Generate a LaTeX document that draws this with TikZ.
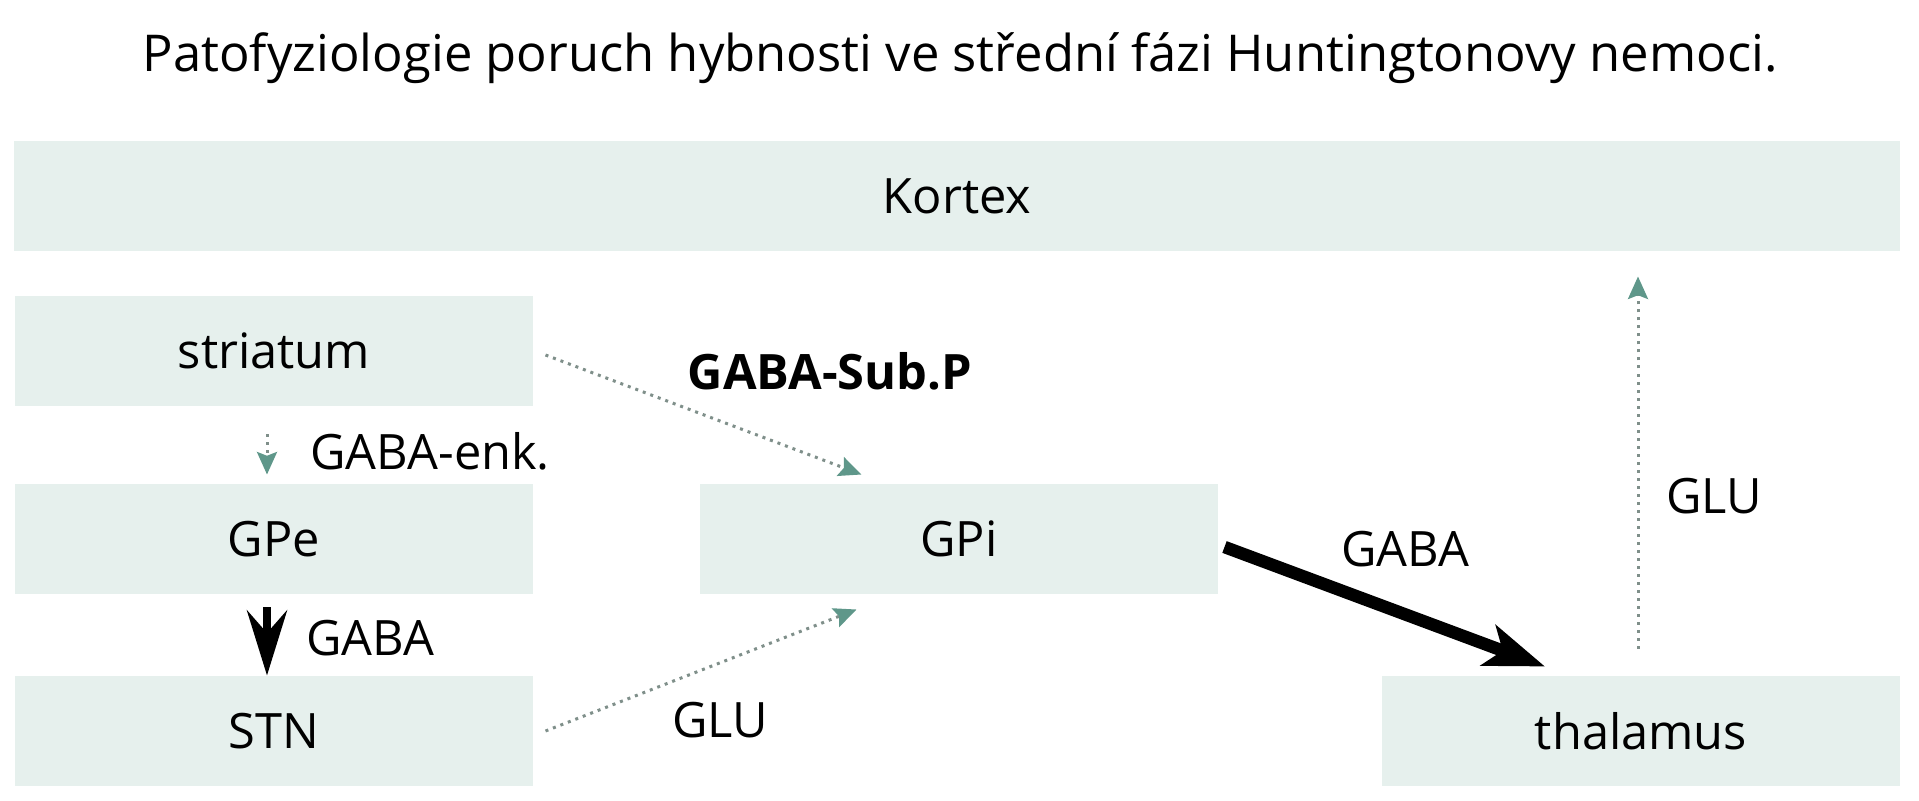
\documentclass[tikz,border=0pt]{standalone}
\usepackage{fontspec}
\setmainfont{Open Sans}
\usetikzlibrary{arrows.meta}
\definecolor{boxfill}{HTML}{E6F0ED}
\definecolor{tipgreen}{HTML}{5F978A}
\definecolor{dotgray}{HTML}{7F8F8A}

\begin{document}
\begin{tikzpicture}[x=0.4pt, y=-0.4pt,
    box/.style = {fill=boxfill, minimum width=207.2pt, minimum height=44pt,
        inner sep=0pt, font=\fontsize{19.5}{23}\selectfont},
    lbl/.style = {inner sep=0pt, font=\fontsize{19.5}{23}\selectfont},
    weak/.style = {dotgray, line width=1.2pt, dash pattern=on 1.2pt off 2pt,
        -{Stealth[length=9pt, width=8pt, inset=1.5pt, color=tipgreen]}},
    strong/.style = {line width=4pt, -{Stealth[length=22pt, width=15pt, inset=5pt]}}]
\useasboundingbox (0,0) rectangle (1919,800);
\node[lbl, font=\fontsize{20.3}{24}\selectfont] (title) at (960,58)
    {Patofyziologie poruch hybnosti ve střední fázi Huntingtonovy nemoci.};
% boxes
\node[box, minimum width=754pt] (kortex) at (957,196) {Kortex};
\node[box] (striatum) at (274,351) {striatum};
\node[box] (gpe) at (274,539) {GPe};
\node[box] (stn) at (274,731) {STN};
\node[box] (gpi) at (959,539) {GPi};
\node[box] (thalamus) at (1641,731) {thalamus};
% connections
\draw[weak, shorten <=11pt, shorten >=3.6pt]
    ([xshift=-2.8pt]striatum.south) -- ([xshift=-2.8pt]gpe.north);
\draw[strong, line width=3.4pt, -{Stealth[length=26pt, width=16pt, inset=9pt]}, shorten <=5pt]
    ([xshift=-2.8pt]gpe.south) -- ([xshift=-2.8pt]stn.north);
\draw[weak] ([xshift=4.8pt, yshift=-1.6pt]striatum.east)
    -- ([xshift=-39pt, yshift=3.6pt]gpi.north);
\draw[weak] ([xshift=4.8pt]stn.east)
    -- ([xshift=-41pt, yshift=-6pt]gpi.south);
\draw[strong, line width=5pt, -{Stealth[length=24pt, width=17pt, inset=6pt]}]
    ([xshift=2.4pt, yshift=-3.2pt]gpi.east)
    -- ([xshift=-38.4pt, yshift=3.6pt]thalamus.north);
\draw[weak, shorten <=10.8pt, shorten >=10pt]
    ([xshift=-1.2pt]thalamus.north) -- ([xshift=-1.2pt]thalamus.north |- kortex.south);
% labels
\node[lbl, anchor=west] (enk) at (310,451) {GABA-enk.};
\node[lbl, anchor=west] (gaba1) at (306,638) {GABA};
\node[lbl] (glu1) at (720,720) {GLU};
\node[lbl, font=\fontsize{19.5}{23}\selectfont\bfseries] (subp) at (830,371) {GABA-Sub.P};
\node[lbl] (gaba2) at (1405,549) {GABA};
\node[lbl] (glu2) at (1714,496) {GLU};
\end{tikzpicture}
\end{document}
